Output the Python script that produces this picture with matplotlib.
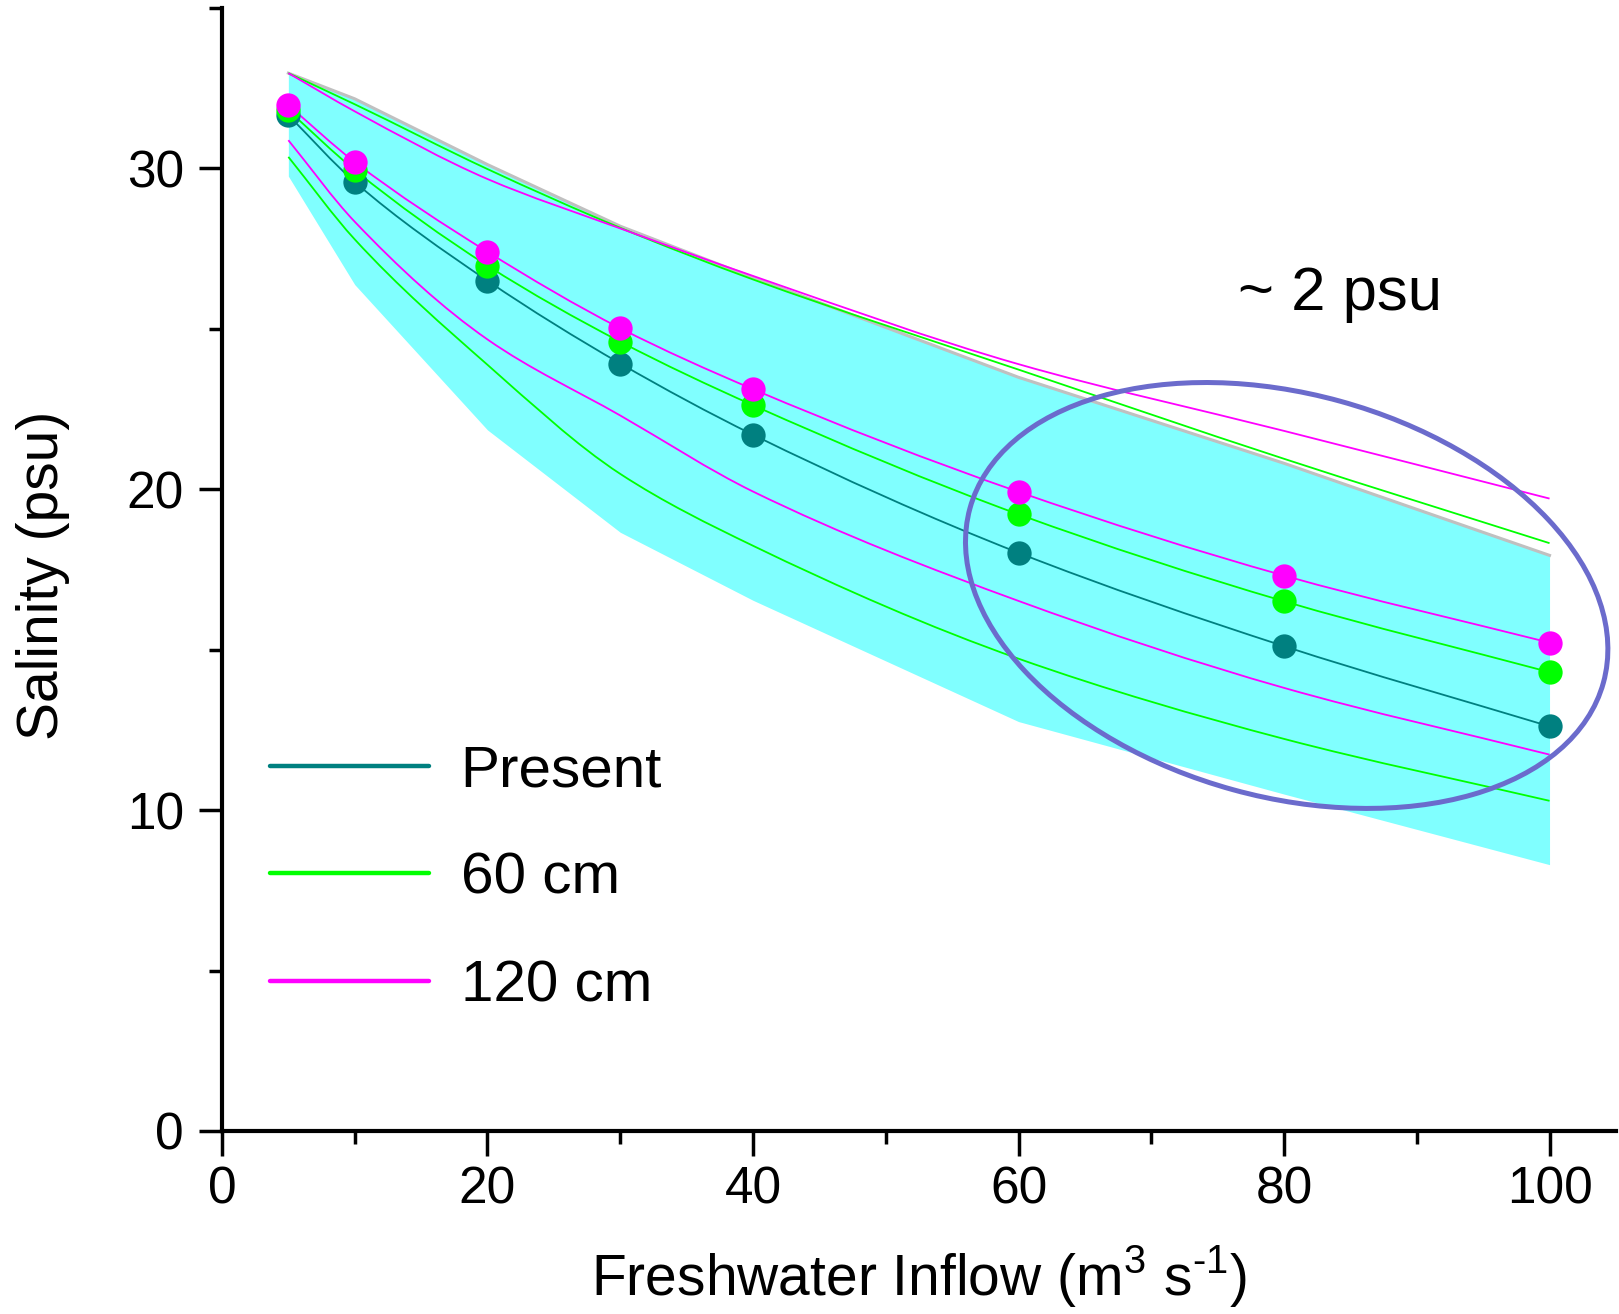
import matplotlib
matplotlib.use('Agg')
import matplotlib.pyplot as plt
from matplotlib.patches import Ellipse, PathPatch
from matplotlib.path import Path
from matplotlib.lines import Line2D
from matplotlib import transforms
from matplotlib.ticker import MultipleLocator

plt.rcParams['font.family'] = ['Liberation Sans', 'DejaVu Sans']
plt.rcParams['mathtext.fontset'] = 'custom'
plt.rcParams['mathtext.rm'] = 'Liberation Sans'
plt.rcParams['axes.unicode_minus'] = False

# freshwater inflow (m3/s) where values were read
inflow = [5, 10, 20, 30, 40, 60, 80, 100]

# salinity at the sample points (psu)
present = [31.66, 29.58, 26.5, 23.92, 21.7, 18.02, 15.11, 12.61]
sl_60 = [31.81, 29.95, 26.97, 24.6, 22.62, 19.22, 16.51, 14.3]
sl_120 = [31.97, 30.2, 27.4, 25.02, 23.12, 19.92, 17.31, 15.22]

# envelope lines for each sea level scenario
sl_60_hi = [32.97, 32.0, 29.98, 28.15, 26.54, 23.73, 20.95, 18.32]
sl_60_lo = [30.36, 27.79, 23.88, 20.48, 18.24, 14.72, 12.22, 10.29]
sl_120_hi = [32.97, 31.78, 29.67, 28.13, 26.65, 23.9, 21.82, 19.71]
sl_120_lo = [30.88, 28.34, 24.67, 22.3, 19.93, 16.52, 13.81, 11.73]

# shaded range
band_top = [32.97, 32.17, 30.12, 28.2, 26.6, 23.49, 20.81, 17.94]
band_bot = [29.76, 26.38, 21.85, 18.66, 16.54, 12.76, 10.5, 8.3]

labels = ['Present', '60 cm', '120 cm']
colors = ['#008080', '#00ff00', '#ff00ff']


def smooth_curve(ax, x, y, color, lw=1.3, zorder=3):
    # cubic hermite (pchip tangents) drawn as bezier segments through the points
    n = len(x)
    h = [x[i + 1] - x[i] for i in range(n - 1)]
    d = [(y[i + 1] - y[i]) / h[i] for i in range(n - 1)]
    m = [0.0] * n
    m[0] = d[0]
    m[-1] = d[-1]
    for i in range(1, n - 1):
        if d[i - 1] * d[i] <= 0:
            m[i] = 0.0
        else:
            w1 = 2 * h[i] + h[i - 1]
            w2 = h[i] + 2 * h[i - 1]
            m[i] = (w1 + w2) / (w1 / d[i - 1] + w2 / d[i])
    verts = [(x[0], y[0])]
    codes = [Path.MOVETO]
    for i in range(n - 1):
        verts += [(x[i] + h[i] / 3, y[i] + m[i] * h[i] / 3),
                  (x[i + 1] - h[i] / 3, y[i + 1] - m[i + 1] * h[i] / 3),
                  (x[i + 1], y[i + 1])]
        codes += [Path.CURVE4] * 3
    ax.add_patch(PathPatch(Path(verts, codes), fill=False, ec=color, lw=lw, zorder=zorder))


fig = plt.figure(figsize=(16.19, 13.14), dpi=100)
ax = fig.add_axes([0.1371, 0.1393, 0.861, 0.8546])

ax.fill_between(inflow, band_bot, band_top, color='#80ffff', lw=0, zorder=1)
ax.plot(inflow, band_top, color='#c0c0c0', lw=2.2, zorder=2)

smooth_curve(ax, inflow, sl_60_hi, colors[1])
smooth_curve(ax, inflow, sl_60_lo, colors[1])
smooth_curve(ax, inflow, sl_120_hi, colors[2])
smooth_curve(ax, inflow, sl_120_lo, colors[2])

for vals, c in zip([present, sl_60, sl_120], colors):
    smooth_curve(ax, inflow, vals, c, zorder=4)
for vals, c in zip([present, sl_60, sl_120], colors):
    ax.plot(inflow, vals, 'o', color=c, ms=17.5, mec='none', zorder=5)

# highlight ellipse, sized in inches around a data point
trans = fig.dpi_scale_trans + transforms.ScaledTranslation(80.2, 16.69, ax.transData)
ell = Ellipse((0, 0), width=2 * 3.285, height=2 * 2.015, angle=-15.4,
              fill=False, ec='#6b6bcc', lw=3.6, transform=trans, zorder=6, clip_on=False)
ax.add_patch(ell)

ax.text(84.2, 26.06, '~ 2 psu', fontsize=44.5, ha='center', va='center')

handles = [Line2D([], [], color=c, lw=3.2, solid_capstyle='round') for c in colors]
ax.legend(handles, labels, loc='center left', bbox_to_anchor=(0.0344, 0.2245),
          frameon=False, fontsize=42, handlelength=2.72, handletextpad=0.55,
          labelspacing=0.92, borderpad=0, borderaxespad=0)

ax.set_xlim(0, 105)
ax.set_ylim(0, 35)
ax.spines['top'].set_visible(False)
ax.spines['right'].set_visible(False)
ax.spines['left'].set_linewidth(3)
ax.spines['bottom'].set_linewidth(3)

ax.xaxis.set_major_locator(MultipleLocator(20))
ax.xaxis.set_minor_locator(MultipleLocator(10))
ax.yaxis.set_major_locator(MultipleLocator(10))
ax.yaxis.set_minor_locator(MultipleLocator(5))
ax.tick_params(axis='x', which='major', direction='out', length=18, width=2.5, labelsize=37, pad=7)
ax.tick_params(axis='x', which='minor', direction='out', length=9.5, width=2.5)
ax.tick_params(axis='y', which='major', direction='out', length=16.5, width=2.5, labelsize=37, pad=11)
ax.tick_params(axis='y', which='minor', direction='out', length=9.5, width=2.5)

ax.set_xlabel(r'Freshwater Inflow (m$^{\text{3}}$ s$^{\text{-1}}$)', fontsize=41)
ax.set_ylabel('Salinity (psu)', fontsize=41)
ax.xaxis.set_label_coords(0.5, -0.1)
ax.yaxis.set_label_coords(-0.109, 0.495)

fig.savefig('out.png', dpi=100)
